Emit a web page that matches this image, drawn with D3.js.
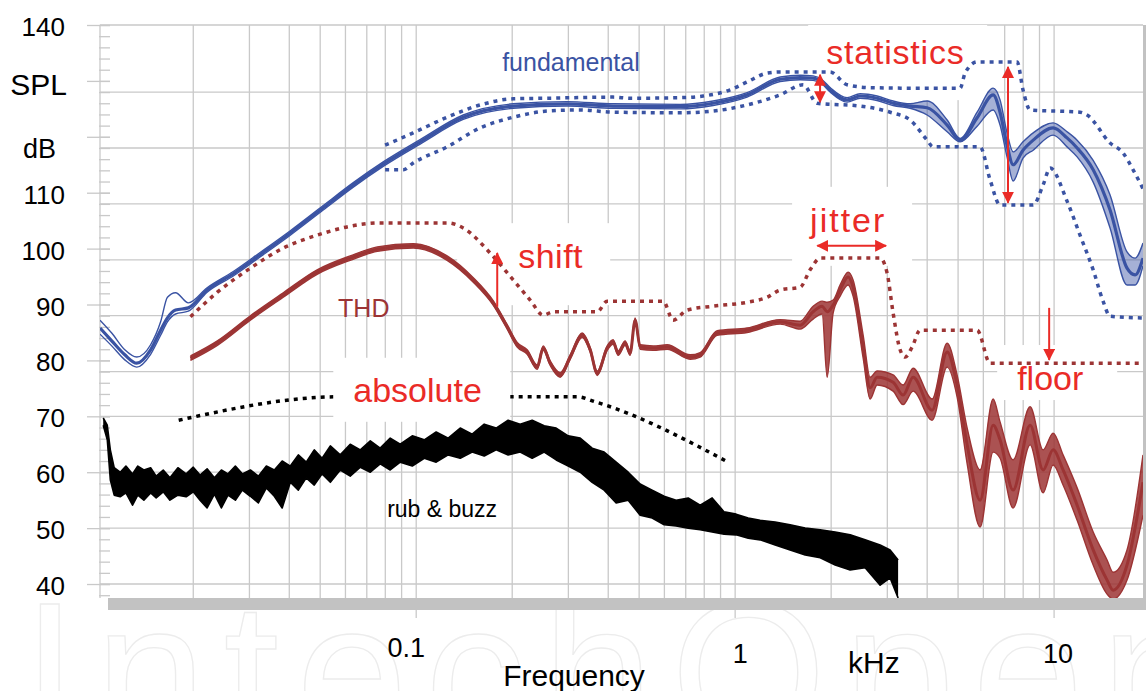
<!DOCTYPE html>
<html>
<head>
<meta charset="utf-8">
<script src="https://cdn.jsdelivr.net/npm/d3@7/dist/d3.min.js"></script>
<style>
  body { margin: 0; background: #fff; }
  svg { display: block; font-family: "Liberation Sans", Arial, Helvetica, sans-serif; }
</style>
</head>
<body>
<div id="chart"></div>
<script>
// values: frequency in kHz, level in dB SPL

// fundamental: bundle of measured curves (upper edge, middle, lower edge)
const fundFreq = [0.0102, 0.0111, 0.0122, 0.0133, 0.0147, 0.0158, 0.0166, 0.0176, 0.0193, 0.0221,
  0.0267, 0.0324, 0.0403, 0.0511, 0.0635, 0.0788, 0.1029, 0.1404, 0.2014, 0.2974,
  0.4145, 0.672, 0.853, 1.090, 1.384, 1.599, 1.756, 1.874, 1.985, 2.244,
  2.465, 2.787, 3.129, 3.537, 3.998, 4.620, 5.074, 5.737, 6.44, 6.77,
  7.12, 7.44, 7.99, 8.60, 9.93, 10.98, 11.81, 13.26, 14.98, 16.93,
  17.95, 19.0];
const fundMid = [85.8, 83.5, 81.0, 79.5, 81.9, 85.4, 87.6, 89.0, 89.4, 92.6,
  95.5, 98.9, 102.8, 107.3, 111.4, 115.1, 119.1, 123.5, 125.5, 125.9,
  125.5, 125.4, 126.0, 127.5, 130.3, 130.6, 130.5, 129.8, 128.4, 126.6,
  127.3, 126.9, 126.0, 125.5, 125.2, 122.1, 119.4, 123.4, 127.5, 124.4,
  118.5, 115.0, 117.6, 119.4, 121.6, 119.8, 118.0, 114.1, 106.9, 96.5,
  95.3, 98.3];
const fundHi = [87.2, 84.9, 81.9, 80.6, 82.8, 86.9, 91.3, 92.1, 90.3, 93.0,
  95.9, 99.3, 103.2, 107.7, 111.8, 115.5, 119.5, 123.9, 125.9, 126.3,
  125.9, 125.8, 126.4, 127.9, 130.7, 131.0, 130.9, 130.2, 128.8, 127.0,
  127.7, 127.3, 126.4, 125.9, 126.4, 123.0, 119.7, 124.4, 128.7, 126.6,
  120.7, 117.3, 119.1, 120.7, 122.5, 120.9, 119.4, 115.8, 109.6, 99.4,
  98.3, 101.0];
const fundLo = [84.7, 82.6, 80.1, 78.8, 81.1, 84.5, 86.9, 88.3, 88.8, 92.2,
  95.1, 98.5, 102.4, 106.9, 111.0, 114.7, 118.7, 123.1, 125.1, 125.5,
  125.1, 125.0, 125.6, 127.1, 129.9, 130.2, 130.1, 129.4, 128.0, 126.2,
  126.9, 126.5, 125.6, 125.1, 123.9, 120.9, 119.1, 121.9, 124.8, 122.1,
  116.4, 112.1, 116.2, 117.6, 120.3, 118.2, 116.4, 111.9, 103.7, 93.5,
  93.5, 96.9];

// statistical limits of the fundamental (dotted)
const fundUpperFreq = [0.0799, 0.0978, 0.125, 0.1587, 0.2014, 0.2574, 0.4145, 0.4685, 0.672, 0.794,
  0.9645, 1.090, 1.260, 1.384, 1.985, 2.244, 2.650, 3.537, 5.074, 5.26,
  5.737, 7.656, 7.99, 8.41, 12.06, 12.69, 14.98, 16.46, 17.69, 19.0];
const fundUpper = [118.5, 120.7, 123.5, 125.7, 126.8, 126.9, 127.1, 126.9, 127.0, 127.3,
  128.4, 129.8, 131.4, 131.6, 131.6, 129.3, 128.8, 128.7, 128.7, 131.4,
  133.4, 133.4, 128.4, 124.8, 124.4, 123.9, 118.9, 117.1, 114.1, 110.7];
const fundLowerFreq = [0.0799, 0.0911, 0.0978, 0.125, 0.1587, 0.2014, 0.2574, 0.3267, 0.4145, 0.672,
  0.853, 1.090, 1.384, 1.634, 1.808, 2.465, 3.061, 3.537, 3.998, 4.175,
  5.861, 6.30, 6.77, 8.60, 9.238, 9.716, 10.98, 12.06, 13.26, 14.24,
  14.98, 19.0];
const fundLower = [114.1, 114.1, 115.3, 118.2, 121.6, 123.5, 124.6, 124.8, 124.4, 124.3,
  124.6, 125.7, 127.5, 129.3, 126.0, 125.5, 124.4, 123.0, 119.4, 118.2,
  118.2, 112.3, 107.8, 107.8, 111.4, 114.4, 108.5, 102.4, 96.2, 90.6,
  87.9, 87.6];

// THD bundle
const thdFreq = [0.0196, 0.0238, 0.0302, 0.0383, 0.0489, 0.0621, 0.0755, 0.0979, 0.125, 0.151,
  0.1743, 0.1929, 0.2073, 0.2228, 0.2395, 0.2501, 0.2632, 0.2828, 0.304, 0.3314,
  0.3512, 0.3694, 0.3969, 0.4145, 0.4297, 0.452, 0.4685, 0.4858, 0.5037, 0.5534,
  0.6121, 0.7227, 0.7768, 0.8782, 1.090, 1.384, 1.599, 1.756, 1.874, 1.943,
  2.029, 2.134, 2.261, 2.343, 2.520, 2.650, 2.787, 3.128, 3.363, 3.614,
  4.145, 4.620, 4.964, 5.339, 5.861, 6.440, 6.770, 7.437, 8.41, 9.238,
  9.929, 10.67, 11.81, 13.26, 14.66, 15.31, 16.93, 19.0];
const thdMid = [80.4, 83.1, 87.6, 91.7, 95.8, 98.3, 99.9, 100.5, 98.3, 94.4,
  90.3, 86.0, 82.8, 81.5, 78.8, 82.2, 79.5, 77.4, 80.6, 84.5,
  81.9, 77.7, 82.2, 83.3, 81.3, 83.1, 81.3, 87.2, 82.4, 82.2,
  82.4, 80.6, 81.0, 84.9, 85.4, 86.9, 86.3, 88.7, 89.7, 88.7,
  89.9, 92.6, 94.9, 93.1, 82.4, 75.1, 77.0, 76.1, 73.8, 77.0,
  71.1, 81.5, 75.6, 64.9, 55.0, 68.4, 65.8, 56.8, 68.4, 60.4,
  64.0, 60.4, 54.1, 46.1, 40.7, 38.9, 43.4, 58.2];
const thdHi = [80.8, 83.5, 88.0, 92.1, 96.2, 98.7, 100.3, 100.9, 98.7, 94.8,
  90.7, 86.4, 83.2, 81.9, 79.2, 82.6, 79.9, 77.8, 81.0, 84.9,
  82.3, 78.1, 82.6, 83.7, 81.7, 83.5, 81.7, 87.6, 82.8, 82.6,
  82.8, 81.0, 81.4, 85.3, 85.8, 87.3, 87.0, 89.7, 90.6, 90.4,
  90.8, 93.5, 95.8, 94.4, 84.5, 77.0, 78.1, 77.4, 75.6, 78.6,
  73.1, 83.1, 77.4, 67.9, 60.4, 73.1, 69.0, 62.2, 71.7, 64.0,
  67.0, 63.1, 57.2, 49.3, 44.3, 42.1, 46.1, 63.1];
const thdLo = [80.0, 82.7, 87.2, 91.3, 95.4, 97.9, 99.5, 100.1, 97.9, 94.0,
  89.9, 85.6, 82.4, 81.1, 78.4, 81.8, 79.1, 77.0, 80.2, 84.1,
  81.5, 77.3, 81.8, 82.9, 80.9, 82.7, 80.9, 86.8, 82.0, 81.8,
  82.0, 80.2, 80.6, 84.5, 85.0, 86.5, 85.6, 87.4, 88.3, 77.0,
  88.5, 91.5, 93.5, 91.5, 80.4, 73.1, 75.6, 74.5, 72.1, 74.5,
  69.3, 78.8, 73.5, 61.5, 50.2, 63.6, 62.5, 53.6, 64.9, 56.3,
  61.3, 57.7, 51.4, 43.4, 38.2, 37.3, 40.7, 52.3];

// THD limit (dotted)
const thdLimFreq = [0.0196, 0.0238, 0.0302, 0.0383, 0.0489, 0.0621, 0.0771, 0.125, 0.1404, 0.1706,
  0.2014, 0.2277, 0.2501, 0.2689, 0.3694, 0.3969, 0.5947, 0.6391, 0.7071, 0.853,
  1.090, 1.260, 1.384, 1.599, 1.718, 1.848, 2.848, 2.996, 3.128, 3.290,
  3.411, 3.589, 3.800, 5.737, 6.30, 19.0];
const thdLimit = [87.8, 92.2, 96.5, 100.1, 102.4, 104.0, 104.6, 104.6, 103.7, 99.2,
  94.4, 90.8, 88.1, 88.7, 88.7, 90.6, 90.6, 87.2, 89.0, 89.7,
  90.4, 91.3, 92.6, 93.1, 96.2, 98.3, 98.3, 95.6, 88.5, 81.9,
  80.6, 82.4, 85.4, 85.4, 79.5, 79.5];

// rub & buzz: upper and lower edge of the noisy bundle
const rbFreq = [0.01044, 0.01075, 0.01099, 0.0113, 0.0118, 0.0123, 0.0129, 0.0134, 0.0140, 0.0147,
  0.0153, 0.0161, 0.0169, 0.0179, 0.0190, 0.0200, 0.0210, 0.0221, 0.0233, 0.0245,
  0.0257, 0.0271, 0.0285, 0.0302, 0.0320, 0.0339, 0.0359, 0.0380, 0.0403, 0.0427,
  0.0452, 0.0479, 0.0507, 0.0538, 0.0578, 0.0621, 0.0668, 0.0718, 0.0771, 0.0829,
  0.0891, 0.0972, 0.106, 0.1155, 0.126, 0.1374, 0.1498, 0.1634, 0.1781, 0.1942,
  0.2118, 0.231, 0.2519, 0.2747, 0.2996, 0.3267, 0.3562, 0.3884, 0.4236, 0.462,
  0.5037, 0.5493, 0.599, 0.6531, 0.7124, 0.7768, 0.847, 0.9236, 1.007, 1.099,
  1.198, 1.335, 1.487, 1.658, 1.848, 2.059, 2.294, 2.556, 2.848, 3.061,
  3.243];
const rbHi = [69.7, 68.4, 64.0, 60.8, 60.0, 61.1, 59.7, 61.1, 60.4, 60.8,
  59.3, 60.4, 59.0, 60.8, 59.7, 60.9, 59.5, 60.6, 59.0, 60.4,
  59.7, 61.1, 59.7, 60.4, 59.3, 61.1, 60.4, 62.0, 61.1, 63.1,
  61.8, 64.0, 62.5, 64.7, 63.1, 65.0, 64.0, 65.6, 64.3, 66.1,
  65.0, 66.5, 65.8, 67.2, 66.1, 67.9, 66.8, 68.6, 67.9, 69.3,
  68.6, 69.3, 68.3, 67.9, 66.5, 66.1, 64.3, 63.6, 61.8, 60.0,
  57.9, 56.8, 55.7, 55.0, 55.4, 54.1, 55.4, 52.9, 52.5, 51.8,
  51.4, 51.1, 50.6, 50.0, 49.7, 49.3, 48.8, 47.9, 47.0, 46.1,
  44.3];
const rbLo = [68.4, 65.8, 58.6, 55.9, 55.6, 56.3, 54.1, 55.9, 55.0, 56.3,
  55.4, 56.5, 55.0, 55.9, 55.6, 56.5, 55.0, 53.6, 56.1, 53.6,
  55.9, 55.0, 56.8, 55.7, 54.5, 57.2, 55.7, 53.6, 58.2, 56.8,
  59.0, 57.7, 59.7, 58.2, 60.4, 59.3, 60.9, 60.0, 61.5, 60.4,
  61.8, 61.1, 62.5, 61.8, 63.1, 62.5, 63.6, 62.9, 64.0, 63.1,
  63.6, 62.5, 63.6, 62.2, 61.1, 60.0, 58.2, 56.8, 54.5, 55.0,
  52.3, 51.8, 50.6, 50.4, 50.0, 49.7, 49.3, 48.9, 48.8, 48.2,
  47.9, 47.0, 46.1, 45.2, 44.7, 43.4, 42.5, 42.9, 39.8, 41.1,
  37.5];

// absolute limit for rub & buzz (dotted)
const absFreq = [0.018, 0.0578, 0.3197, 0.364, 0.951];
const absLimit = [69.3, 73.5, 73.5, 72.6, 61.8];

// grid and tick labels
const gridFreqs = [0.02, 0.03, 0.04, 0.05, 0.06, 0.07, 0.08, 0.09,
  0.1, 0.2, 0.3, 0.4, 0.5, 0.6, 0.7, 0.8, 0.9,
  1, 2, 3, 4, 5, 6, 7, 8, 9, 10];
const gridDb = [140, 128, 118, 108, 98, 88, 78, 70, 60, 50, 40];
const yTickLabels = [140, 110, 100, 90, 80, 70, 60, 50, 40];
const xTickValues = [0.1, 1, 10];
const xTickLabels = ["0.1", "1", "10"];

const width = 1146, height = 691;
const plot = { left: 100, right: 1143, top: 25, bottom: 598 };
const blue = "#3a53a3", thdRed = "#9c3434", annoRed = "#ea2b27", gridColor = "#c9c9c9";

const x = d3.scaleLog().domain([0.0102, 19]).range([plot.left, plot.right]);
const y = d3.scaleLinear().domain([37.5, 140]).range([plot.bottom, plot.top]);

const svg = d3.select("#chart").append("svg")
  .attr("width", width)
  .attr("height", height);

const defs = svg.append("defs");
defs.append("clipPath").attr("id", "plot-clip")
  .append("rect")
  .attr("x", plot.left).attr("y", plot.top)
  .attr("width", plot.right - plot.left).attr("height", plot.bottom - plot.top);
defs.append("clipPath").attr("id", "wm-clip")
  .append("rect")
  .attr("x", 0).attr("y", plot.bottom).attr("width", width).attr("height", height - plot.bottom);
defs.append("marker")
  .attr("id", "head")
  .attr("viewBox", "0 0 12 12")
  .attr("refX", 11)
  .attr("refY", 6)
  .attr("markerWidth", 12)
  .attr("markerHeight", 12)
  .attr("markerUnits", "userSpaceOnUse")
  .attr("orient", "auto-start-reverse")
  .append("path")
  .attr("d", "M0,0 L12,6 L0,12 Z")
  .attr("fill", annoRed);

// faint publisher watermark under the axis
svg.append("text")
  .attr("clip-path", "url(#wm-clip)")
  .attr("x", 22)
  .attr("y", 742)
  .attr("font-size", 200)
  .attr("textLength", 1190)
  .attr("lengthAdjust", "spacing")
  .attr("fill", "none")
  .attr("stroke", "#ececec")
  .attr("stroke-width", 1.3)
  .text("IntechOpen");

// grid
const grid = svg.append("g").attr("stroke", gridColor).attr("stroke-width", 1.3);
grid.selectAll(".v").data(gridFreqs).join("line")
  .attr("class", "v")
  .attr("x1", d => x(d)).attr("x2", d => x(d))
  .attr("y1", plot.top).attr("y2", plot.bottom);
grid.selectAll(".h").data(gridDb).join("line")
  .attr("class", "h")
  .attr("x1", plot.left).attr("x2", plot.right)
  .attr("y1", d => y(d)).attr("y2", d => y(d));

// y axis: long ticks every 10 dB, short ticks every 2 dB
const styleTicks = g => {
  g.select(".domain").remove();
  g.selectAll("line").attr("stroke", gridColor).attr("stroke-width", 1.3);
};
svg.append("g")
  .attr("transform", "translate(110,0)")
  .call(d3.axisLeft(y).tickValues(d3.range(40, 141, 10)).tickSize(23).tickFormat(""))
  .call(styleTicks);
svg.append("g")
  .attr("transform", "translate(110,0)")
  .call(d3.axisLeft(y).tickValues(d3.range(38, 141, 2)).tickSize(11).tickFormat(""))
  .call(styleTicks);
svg.append("line")
  .attr("x1", plot.left).attr("x2", plot.left)
  .attr("y1", plot.top).attr("y2", plot.bottom)
  .attr("stroke", gridColor).attr("stroke-width", 1.3);

svg.append("g").selectAll("text").data(yTickLabels).join("text")
  .attr("x", 65)
  .attr("y", d => y(d) + 11)
  .attr("text-anchor", "end")
  .attr("font-size", 26)
  .text(d => d);
svg.append("text").attr("x", 67).attr("y", 95).attr("text-anchor", "end")
  .attr("font-size", 30).text("SPL");
svg.append("text").attr("x", 56).attr("y", 158).attr("text-anchor", "end")
  .attr("font-size", 27).text("dB");

// annotation words; the red ones sit on white boxes that hide the grid
const notes = [
  { text: "statistics", f: 1.929, db: 133.0, size: 34, spacing: 0.8, color: annoRed, box: [-18, -44, 161, 36] },
  { text: "jitter", f: 1.718, db: 103.0, size: 34, spacing: 2, color: annoRed, box: [-18, -45, 102, 34] },
  { text: "shift", f: 0.2088, db: 96.5, size: 34, spacing: 0.5, color: annoRed, box: [-61, -45, 92, 37] },
  { text: "absolute", f: 0.0635, db: 72.6, size: 34, spacing: 0, color: annoRed, box: [-20, -44, 157, 20] },
  { text: "floor", f: 7.66, db: 74.7, size: 34, spacing: 0, color: annoRed, box: [-20, -45, 100, 10] },
  { text: "fundamental", f: 0.186, db: 131.8, size: 25, spacing: 0, color: blue },
  { text: "THD", f: 0.0569, db: 87.8, size: 25, spacing: 0, color: thdRed },
  { text: "rub & buzz", f: 0.0811, db: 52.0, size: 23, spacing: 0, color: "#000" }
];

const lineGen = d3.line().x(d => x(d[0])).y(d => y(d[1])).curve(d3.curveMonotoneX);
const jagGen = d3.line().x(d => x(d[0])).y(d => y(d[1])).curve(d3.curveLinear);
const bandGen = d3.area().x(d => x(d[0])).y0(d => y(d[1])).y1(d => y(d[2])).curve(d3.curveMonotoneX);
const jagBand = d3.area().x(d => x(d[0])).y0(d => y(d[1])).y1(d => y(d[2])).curve(d3.curveLinear);

const data = svg.append("g").attr("clip-path", "url(#plot-clip)");

const dotted = (g, pts, color) => g.append("path")
  .attr("d", lineGen(pts))
  .attr("fill", "none")
  .attr("stroke", color)
  .attr("stroke-width", 3.5)
  .attr("stroke-dasharray", "4 5");

dotted(data, d3.zip(absFreq, absLimit), "#000");

data.append("g").selectAll("rect").data(notes.filter(d => d.box)).join("rect")
  .attr("x", d => x(d.f) + d.box[0])
  .attr("y", d => y(d.db) + d.box[1])
  .attr("width", d => d.box[2] - d.box[0])
  .attr("height", d => d.box[3] - d.box[1])
  .attr("fill", "#fff");

dotted(data, d3.zip(fundUpperFreq, fundUpper), blue);
dotted(data, d3.zip(fundLowerFreq, fundLower), blue);
dotted(data, d3.zip(thdLimFreq, thdLimit), thdRed);

// rub & buzz
const rbPts = d3.zip(rbFreq, rbLo, rbHi);
data.append("path").attr("d", jagBand(rbPts)).attr("fill", "#000");
[rbHi, rbLo].forEach(s => {
  data.append("path")
    .attr("d", jagGen(d3.zip(rbFreq, s)))
    .attr("fill", "none").attr("stroke", "#000").attr("stroke-width", 1.6)
    .attr("stroke-linejoin", "round");
});

// THD
data.append("path").attr("d", bandGen(d3.zip(thdFreq, thdLo, thdHi)))
  .attr("fill", thdRed).attr("fill-opacity", 0.85);
[thdHi, thdLo].forEach(s => {
  data.append("path")
    .attr("d", lineGen(d3.zip(thdFreq, s)))
    .attr("fill", "none").attr("stroke", thdRed).attr("stroke-width", 1.4);
});
data.append("path")
  .attr("d", lineGen(d3.zip(thdFreq, thdMid)))
  .attr("fill", "none").attr("stroke", thdRed).attr("stroke-width", 3);

// fundamental: shade only where the curves fan out at high frequency
const fanFrom = fundFreq.indexOf(3.537);
data.append("path")
  .attr("d", bandGen(d3.zip(fundFreq, fundLo, fundHi).slice(fanFrom)))
  .attr("fill", blue).attr("fill-opacity", 0.45);
[fundHi, fundLo].forEach(s => {
  data.append("path")
    .attr("d", lineGen(d3.zip(fundFreq, s)))
    .attr("fill", "none").attr("stroke", blue).attr("stroke-width", 1.4);
});
data.append("path")
  .attr("d", lineGen(d3.zip(fundFreq, fundMid)))
  .attr("fill", "none").attr("stroke", blue).attr("stroke-width", 3.2);

// grey floor and right edge of the plot box
svg.append("rect").attr("x", 108).attr("y", plot.bottom).attr("width", width - 108).attr("height", 12)
  .attr("fill", "#c2c2c2");
svg.append("rect").attr("x", plot.right).attr("y", plot.top).attr("width", 3).attr("height", plot.bottom - plot.top + 12)
  .attr("fill", "#c2c2c2");
svg.append("g").selectAll("line").data(xTickValues).join("line")
  .attr("x1", d => x(d)).attr("x2", d => x(d))
  .attr("y1", plot.bottom + 12).attr("y2", plot.bottom + 20)
  .attr("stroke", gridColor).attr("stroke-width", 1.3);

// x labels
const xNudge = [-10, 5, 4], xBase = [657, 663, 663];
svg.append("g").selectAll("text").data(xTickLabels).join("text")
  .attr("x", (d, i) => x(xTickValues[i]) + xNudge[i])
  .attr("y", (d, i) => xBase[i])
  .attr("text-anchor", "middle")
  .attr("font-size", 27)
  .text(d => d);
svg.append("text").attr("x", 574).attr("y", 686).attr("text-anchor", "middle")
  .attr("font-size", 30).text("Frequency");
svg.append("text").attr("x", 848).attr("y", 673)
  .attr("font-size", 30).text("kHz");

svg.append("g").selectAll("text").data(notes).join("text")
  .attr("x", d => x(d.f))
  .attr("y", d => y(d.db))
  .attr("font-size", d => d.size)
  .attr("letter-spacing", d => d.spacing)
  .attr("fill", d => d.color)
  .text(d => d.text);

// red arrows
const arrows = [
  { f0: 0.1795, d0: 89.6, f1: 0.1795, d1: 99.2, both: false },
  { f0: 1.846, d0: 126.2, f1: 1.846, d1: 131.1, both: true },
  { f0: 7.17, d0: 108.2, f1: 7.17, d1: 132.5, both: true },
  { f0: 1.81, d0: 100.5, f1: 2.974, d1: 100.5, both: true },
  { f0: 9.65, d0: 89.4, f1: 9.65, d1: 80.1, both: false }
];
svg.append("g").selectAll("line").data(arrows).join("line")
  .attr("x1", d => x(d.f0)).attr("y1", d => y(d.d0))
  .attr("x2", d => x(d.f1)).attr("y2", d => y(d.d1))
  .attr("stroke", annoRed)
  .attr("stroke-width", 2)
  .attr("marker-end", "url(#head)")
  .attr("marker-start", d => d.both ? "url(#head)" : null);
</script>
</body>
</html>
